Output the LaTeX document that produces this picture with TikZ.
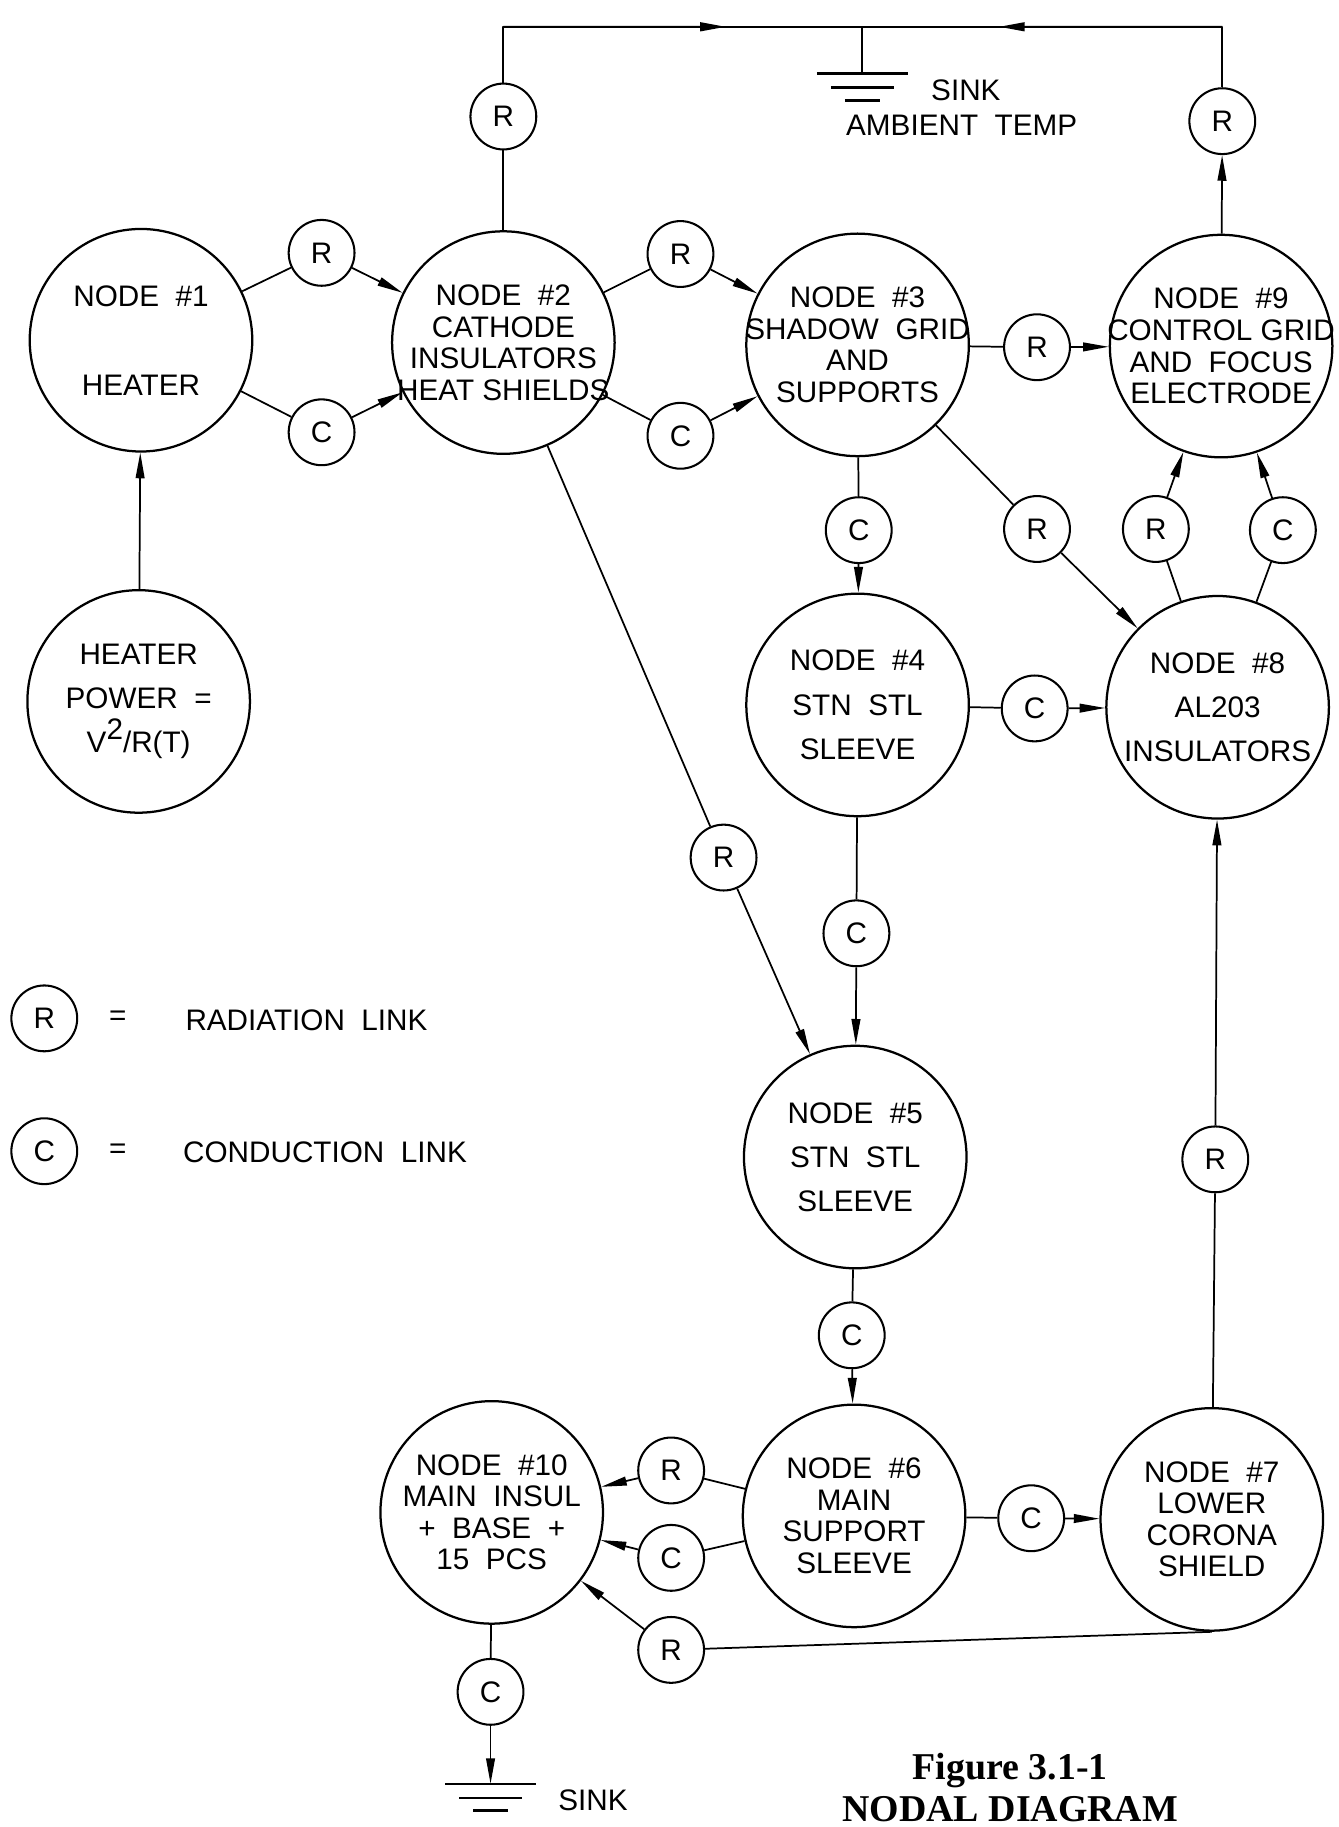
\documentclass[tikz,border=0pt]{standalone}
\usepackage{fontspec}
\setmainfont{Liberation Sans}
\newfontfamily\capfont{Liberation Serif}
\usetikzlibrary{arrows.meta,calc}

\begin{document}
\begin{tikzpicture}[x=0.2mm,y=-0.2mm,line join=round,
  every node/.style={font=\fontsize{14.5}{15.4}\selectfont},
  big/.style={circle,draw,line width=1.1pt,minimum size=3.82cm,inner sep=0pt},
  lnk/.style={circle,draw,line width=1pt,minimum size=1.13cm,inner sep=0pt},
  txt/.style={align=center,inner sep=0pt},
  txw/.style={align=center,inner sep=0pt,font=\fontsize{14.5}{21.6}\selectfont},
  wire/.style={line width=0.85pt},
  arr/.style={-{Triangle[length=4.4mm,width=1.5mm]}},
  gline/.style={line width=1.3pt},
  capt/.style={align=center,inner sep=0pt,font=\capfont\bfseries\fontsize{18.5}{20.5}\selectfont}]
  \useasboundingbox (0,0) rectangle (1149,1568);
  % temperature nodes
  \foreach \nm/\x/\y in {hp/119/602,n1/121/292,n2/432/294,n3/736/296,n4/736/605,n5/734/993,
      n6/733/1301,n7/1040/1304,n8/1045/607,n9/1048/297,n10/422/1298}
    \node[big] (\nm) at (\x,\y) {};
  \node[txt] (t1) at (n1) {NODE\ \ \#1\\[28pt]HEATER};
  \node[txw] (thp) at (hp) {HEATER\\POWER\ \ =\\V\raisebox{6.5pt}{2}/R(T)};
  \node[txt] (t2) at (n2) {NODE\ \ \#2\\CATHODE\\INSULATORS\\HEAT\ SHIELDS};
  \node[txt] (t3) at (n3) {NODE\ \ \#3\\SHADOW\ \ GRID\\AND\\SUPPORTS};
  \node[txt] (t9) at (n9) {NODE\ \ \#9\\CONTROL\ GRID\\AND\ \ FOCUS\\ELECTRODE};
  \node[txw] (t4) at (n4) {NODE\ \ \#4\\STN\ \ STL\\SLEEVE};
  \node[txw] (t8) at (n8) {NODE\ \ \#8\\AL203\\INSULATORS};
  \node[txw] (t5) at (n5) {NODE\ \ \#5\\STN\ \ STL\\SLEEVE};
  \node[txt] (t6) at (n6) {NODE\ \ \#6\\MAIN\\SUPPORT\\SLEEVE};
  \node[txt] (t7) at (n7) {NODE\ \ \#7\\LOWER\\CORONA\\SHIELD};
  \node[txt] (t10) at (n10) {NODE\ \ \#10\\MAIN\ \ INSUL\\+\ \ BASE\ \ +\\15\ \ PCS};
  % radiation / conduction links
  \foreach \nm/\x/\y/\t in {r2s/432/100/R, r9s/1049/104/R, r12/276/217/R, c12/276/371/C,
      r23/584/218/R, c23/584/374/C, r39/890/298/R, c34/737/455/C, r38/890/454/R,
      r89/992/454/R, c89/1101/455/C, c48/888/608/C, r25/621/736/R, c45/735/801/C,
      r78/1043/995/R, c56/731/1146/C, r610/576/1262/R, c610/576/1337/C, c67/885/1303/C,
      r710/576/1416/R, c10s/421/1452/C}
    \node[lnk] (\nm) at (\x,\y) {\t};
  \foreach \a/\b/\c in {n1/r12/n2, n1/c12/n2, n2/r23/n3, n2/c23/n3, n3/r39/n9, n3/c34/n4,
      n3/r38/n8, n8/r89/n9, n8/c89/n9, n4/c48/n8, n2/r25/n5, n4/c45/n5, n7/r78/n8,
      n5/c56/n6, n6/r610/n10, n6/c610/n10, n6/c67/n7, n7.south/r710/n10}
    {\draw[wire] (\a) -- (\b); \draw[wire,arr] (\b) -- (\c);}
  \draw[wire,arr] (hp) -- (n1);
  % sinks
  \coordinate (tl) at (432,23); \coordinate (gs) at (740,23); \coordinate (tr) at (1049,23);
  \coordinate (gt) at (740,63); \coordinate (gb) at (421,1531);
  \draw[wire] (n2) -- (r2s);
  \draw[wire,line width=1pt] (r2s) -- (tl) -- (tr) -- (r9s);
  \draw[wire,arr] (n9) -- (r9s);
  \draw[wire,line width=1pt,arr] (tl) -- ($(tl)!0.62!(gs)$);
  \draw[wire,line width=1pt,arr] (tr) -- ($(tr)!0.62!(gs)$);
  \draw[wire] (gs) -- (gt);
  \draw[wire] (n10) -- (c10s);
  \draw[wire,arr] (c10s) -- (gb);
  \foreach \g in {gt,gb}
    \foreach \dy/\hw in {0/39,12/27,23/15}
      \draw[gline] ($(\g)+(-\hw,\dy)$) -- ($(\g)+(\hw,\dy)$);
  \node[anchor=base west] (sk1) at (793,86) {SINK};
  \node[anchor=base west] (amb) at (720,116) {AMBIENT\ \ TEMP};
  \node[anchor=base west] (sk2) at (473,1554) {SINK};
  % legend
  \node[lnk] (lgr) at (38,874) {R};
  \node[lnk] (lgc) at (38,988) {C};
  \node (eqr) at (101,874) {=};
  \node (eqc) at (101,988) {=};
  \node[anchor=base west] (lbr) at (153,884) {RADIATION\ \ LINK};
  \node[anchor=base west] (lbc) at (151,998) {CONDUCTION\ \ LINK};
  \node[capt,anchor=south] (cap) at (867,1564) {Figure 3.1-1\\NODAL DIAGRAM};
\end{tikzpicture}
\end{document}
